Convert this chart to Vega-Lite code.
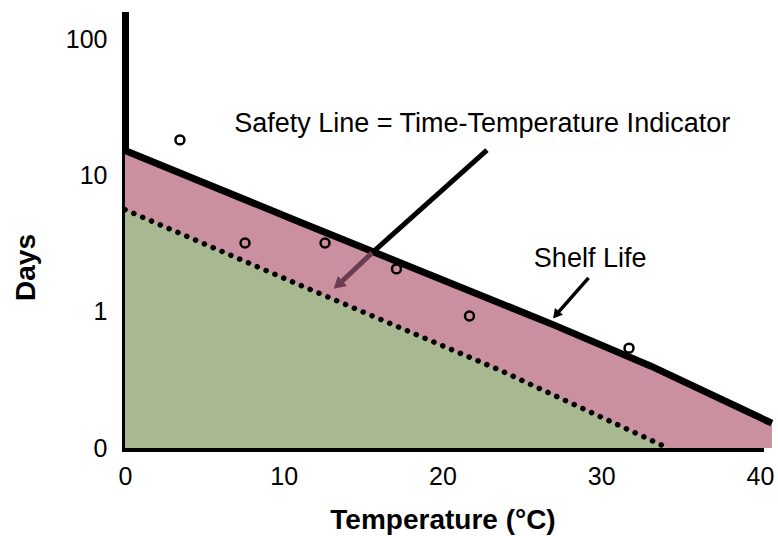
{
  "$schema": "https://vega.github.io/schema/vega-lite/v6.json",
  "width": 635,
  "height": 433,
  "autosize": {"type": "none"},
  "padding": {"left": 125, "top": 15, "right": 18, "bottom": 88},
  "config": {"view": {"stroke": null}, "font": "Liberation Sans"},
  "datasets": {
    "shelf": [
      {"temp": 0, "days": 15.2},
      {"temp": 11, "days": 4.55},
      {"temp": 27, "days": 0.8},
      {"temp": 33.1, "days": 0.4},
      {"temp": 40.75, "days": 0.152}
    ],
    "safety": [
      {"temp": 0, "days": 5.6},
      {"temp": 11, "days": 1.57},
      {"temp": 23.6, "days": 0.373},
      {"temp": 34.2, "days": 0.1}
    ],
    "obs": [
      {"temp": 3.46, "days": 18.2},
      {"temp": 7.56, "days": 3.19},
      {"temp": 12.6, "days": 3.19},
      {"temp": 17.1, "days": 2.06},
      {"temp": 21.7, "days": 0.93},
      {"temp": 31.75, "days": 0.54}
    ]
  },
  "encoding": {
    "x": {"field": "temp", "type": "quantitative",
      "scale": {"domain": [0, 40], "nice": false, "zero": false},
      "axis": {"values": [0, 10, 20, 30, 40], "title": "Temperature (°C)", "grid": false, "ticks": false, "tickSize": 0,
        "domainColor": "black", "domainWidth": 7, "domainCap": "square", "labelFontSize": 25, "labelPadding": 16, "labelColor": "black",
        "labelFlush": false, "titleFontSize": 28, "titleFontWeight": "bold", "titleColor": "black", "titleY": 80, "titleBaseline": "alphabetic"}},
    "y": {"field": "days", "type": "quantitative",
      "scale": {"type": "log", "domain": [0.1, 150], "nice": false},
      "axis": {"values": [0.1, 1, 10, 100], "labelExpr": "datum.value < 0.5 ? '0' : format(datum.value, 'd')", "title": "Days", "grid": false, "ticks": false, "tickSize": 0,
        "domainColor": "black", "domainWidth": 7, "domainCap": "square", "labelFontSize": 25, "labelPadding": 18, "labelColor": "black", "labelFlush": false,
        "titleFontSize": 28, "titleFontWeight": "bold", "titleColor": "black", "titleX": -91, "titleY": 252, "titleBaseline": "alphabetic"}}
  },
  "layer": [
    {"data": {"name": "shelf"}, "mark": {"type": "area", "color": "#cb909f", "opacity": 1},
      "encoding": {"y2": {"datum": 0.1}}},
    {"data": {"name": "safety"}, "mark": {"type": "area", "color": "#a8b890", "opacity": 1},
      "encoding": {"y2": {"datum": 0.1}}},
    {"data": {"name": "safety"}, "mark": {"type": "line", "color": "black", "strokeWidth": 5.5, "strokeDash": [0.1, 9.5], "strokeCap": "round"}},
    {"data": {"name": "shelf"}, "mark": {"type": "line", "color": "black", "strokeWidth": 7, "strokeJoin": "round"}},
    {"data": {"name": "obs"}, "mark": {"type": "point", "shape": "circle", "filled": false, "color": "black", "strokeWidth": 2.5, "size": 80, "opacity": 1}},
    {"data": {"values": [{"temp": 22.8, "days": 15.3, "temp2": 15.56, "days2": 2.7}]},
      "mark": {"type": "rule", "color": "black", "strokeWidth": 5},
      "encoding": {"x2": {"field": "temp2"}, "y2": {"field": "days2"}}},
    {"data": {"values": [{"temp": 15.56, "days": 2.7, "temp2": 13.42, "days2": 1.57}]},
      "mark": {"type": "rule", "color": "#6b3b52", "strokeWidth": 5},
      "encoding": {"x2": {"field": "temp2"}, "y2": {"field": "days2"}}},
    {"data": {"values": [{"temp": 13.42, "days": 1.57}]},
      "mark": {"type": "point", "shape": "triangle-up", "filled": true, "color": "#6b3b52", "size": 180, "angle": 228, "opacity": 1}},
    {"data": {"values": [{"temp": 29.2, "days": 1.77, "temp2": 27.15, "days2": 0.946}]},
      "mark": {"type": "rule", "color": "black", "strokeWidth": 3.5},
      "encoding": {"x2": {"field": "temp2"}, "y2": {"field": "days2"}}},
    {"data": {"values": [{"temp": 27.15, "days": 0.946}]},
      "mark": {"type": "point", "shape": "triangle-up", "filled": true, "color": "black", "size": 110, "angle": 220, "opacity": 1}},
    {"data": {"values": [{"label": "Safety Line = Time-Temperature Indicator", "temp": 22.5, "days": 20.8}, {"label": "Shelf Life", "temp": 29.3, "days": 2.13}]},
      "mark": {"type": "text", "fontSize": 27, "color": "black", "baseline": "alphabetic", "align": "center"},
      "encoding": {"text": {"field": "label"}}}
  ]
}
